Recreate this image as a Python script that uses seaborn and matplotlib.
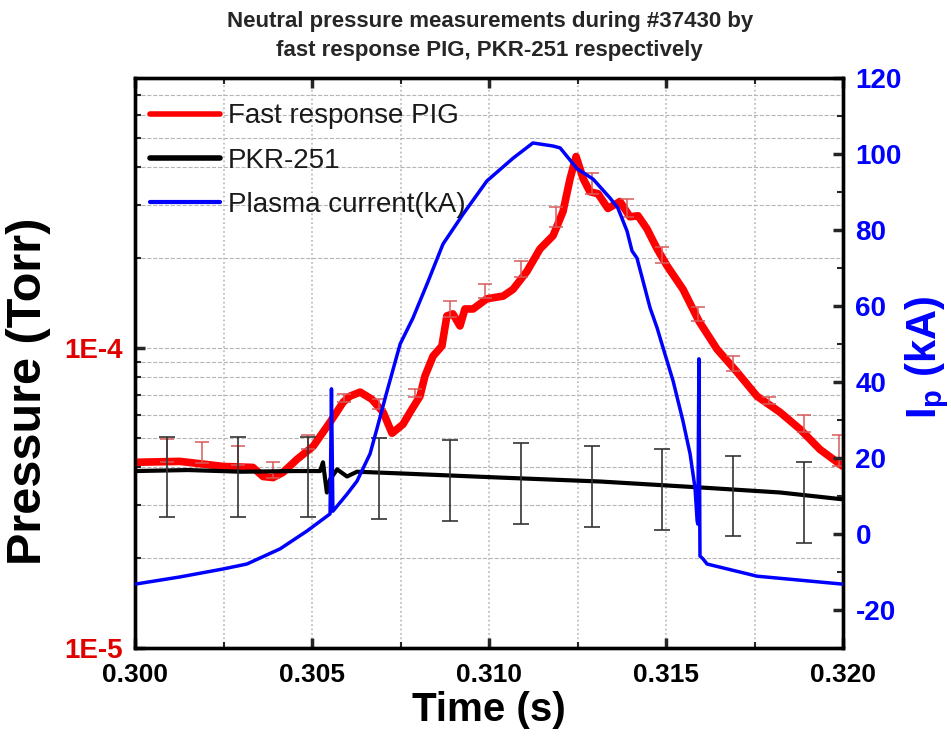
import numpy as np
import pandas as pd
import matplotlib
matplotlib.use("Agg")
import matplotlib.pyplot as plt
import matplotlib.ticker as mticker
import seaborn as sns

# ---------------- data ----------------
pig_t = [0.30000, 0.30127, 0.30249, 0.30333, 0.30362, 0.30390, 0.30418, 0.30458, 0.30503, 0.30551,
         0.30588, 0.30607, 0.30636, 0.30669, 0.30701, 0.30726, 0.30757, 0.30777, 0.30805, 0.30819,
         0.30842, 0.30867, 0.30881, 0.30898, 0.30918, 0.30932, 0.30955, 0.30994, 0.31040, 0.31068,
         0.31107, 0.31144, 0.31181, 0.31209, 0.31229, 0.31246, 0.31266, 0.31285, 0.31308, 0.31336,
         0.31370, 0.31398, 0.31421, 0.31446, 0.31475, 0.31503, 0.31548, 0.31593, 0.31644, 0.31701,
         0.31757, 0.31822, 0.31879, 0.31935, 0.32000]
pig_p = [4.16e-5, 4.19e-5, 4.03e-5, 4.00e-5, 3.73e-5, 3.70e-5, 3.85e-5, 4.26e-5, 4.70e-5, 5.66e-5,
         6.60e-5, 6.91e-5, 7.13e-5, 6.75e-5, 6.11e-5, 5.20e-5, 5.57e-5, 6.11e-5, 6.91e-5, 8.06e-5,
         9.40e-5, 1.016e-4, 1.28e-4, 1.30e-4, 1.185e-4, 1.35e-4, 1.35e-4, 1.46e-4, 1.49e-4, 1.57e-4,
         1.80e-4, 2.14e-4, 2.37e-4, 2.85e-4, 3.67e-4, 4.35e-4, 3.67e-4, 3.32e-4, 3.27e-4, 2.92e-4,
         3.08e-4, 2.74e-4, 2.76e-4, 2.50e-4, 2.14e-4, 1.88e-4, 1.57e-4, 1.23e-4, 9.92e-5, 8.31e-5,
         6.91e-5, 6.11e-5, 5.36e-5, 4.59e-5, 4.03e-5]

pig_err_t = [0.3009, 0.3019, 0.3029, 0.3039, 0.3049, 0.3059, 0.3069, 0.3079, 0.3089, 0.3099,
             0.3109, 0.3119, 0.3129, 0.3139, 0.3149, 0.3159, 0.3169, 0.3179, 0.3189, 0.3199]
pig_err_p = [4.16e-5, 4.13e-5, 4.06e-5, 3.70e-5, 4.59e-5, 6.60e-5, 6.25e-5, 6.86e-5, 1.27e-4, 1.47e-4,
             1.73e-4, 2.54e-4, 3.27e-4, 2.74e-4, 1.92e-4, 1.23e-4, 8.38e-5, 6.49e-5, 5.24e-5, 4.03e-5]
pig_err_up = [0.80e-5, 0.72e-5, 0.64e-5, 0.46e-5, 0.53e-5, 0.42e-5, 0.50e-5, 0.45e-5, 1.6e-5, 1.7e-5,
              2.2e-5, 4.2e-5, 5.5e-5, 4.1e-5, 2.6e-5, 1.4e-5, 1.0e-5, 0.4e-5, 0.73e-5, 1.1e-5]

pkr_t = [0.30000, 0.30150, 0.30300, 0.30450, 0.30523, 0.30531, 0.30542, 0.30551, 0.30571, 0.30599,
         0.30627, 0.30749, 0.31031, 0.31314, 0.31596, 0.31822, 0.32000]
pkr_p = [3.89e-5, 3.92e-5, 3.87e-5, 3.89e-5, 3.89e-5, 4.16e-5, 3.30e-5, 3.65e-5, 3.94e-5, 3.73e-5,
         3.87e-5, 3.82e-5, 3.70e-5, 3.59e-5, 3.43e-5, 3.30e-5, 3.13e-5]

pkr_err_t = [0.3009, 0.3029, 0.3049, 0.3069, 0.3089, 0.3109, 0.3129, 0.3149, 0.3169, 0.3189]
pkr_err_p = [3.89e-5, 3.89e-5, 3.89e-5, 3.85e-5, 3.80e-5, 3.72e-5, 3.62e-5, 3.53e-5, 3.37e-5, 3.21e-5]
pkr_err = [1.16e-5, 1.16e-5, 1.16e-5, 1.15e-5, 1.14e-5, 1.12e-5, 1.09e-5, 1.06e-5, 1.01e-5, 0.97e-5]

ip_t = [0.30000, 0.30127, 0.30249, 0.30316, 0.30410, 0.30486, 0.30551, 0.30555, 0.30559, 0.30599,
        0.30627, 0.30664, 0.30684, 0.30712, 0.30749, 0.30785, 0.30825, 0.30870, 0.30927, 0.30994,
        0.31068, 0.31124, 0.31181, 0.31201, 0.31249, 0.31294, 0.31342, 0.31364, 0.31390, 0.31404,
        0.31418, 0.31435, 0.31455, 0.31475, 0.31492, 0.31520, 0.31548, 0.31568, 0.31582, 0.31588,
        0.31590, 0.31593, 0.31596, 0.31605, 0.31616, 0.31757, 0.32000]
ip_ka = [-13.2, -11.3, -9.2, -7.9, -3.9, 0.8, 5.3, 38.2, 6.0, 10.5,
         13.9, 21.1, 27.9, 37.6, 50.0, 56.8, 65.8, 76.3, 84.2, 92.9,
         98.9, 102.9, 102.1, 101.6, 96.1, 93.4, 88.4, 85.8, 79.7, 74.5,
         72.6, 66.6, 59.5, 54.2, 48.9, 40.3, 29.7, 21.1, 12.1, 3.4,
         2.6, 46.1, -5.8, -6.6, -7.9, -11.1, -13.2]

labels = ["Fast response PIG", "PKR-251", "Plasma current(kA)"]
x_ticks = [0.300, 0.305, 0.310, 0.315, 0.320]
ip_ticks = [-20, 0, 20, 40, 60, 80, 100, 120]

# ---------------- style ----------------
sns.set_theme(style="ticks")
plt.rcParams["font.family"] = ["Liberation Sans", "DejaVu Sans"]
plt.rcParams["mathtext.fontset"] = "custom"
plt.rcParams["mathtext.rm"] = "Liberation Sans"
plt.rcParams["mathtext.bf"] = "Liberation Sans:bold"
plt.rcParams["axes.unicode_minus"] = False

RED = "#ff0000"
BLUE = "#0000ff"

fig = plt.figure(figsize=(9.51, 7.46), dpi=100)
ax = fig.add_axes([135/951, 1-648/746, (843-135)/951, (648-78)/746])
ax.set_yscale("log")

df_pig = pd.DataFrame({"t": pig_t, "p": pig_p})
df_pkr = pd.DataFrame({"t": pkr_t, "p": pkr_p})
df_ip = pd.DataFrame({"t": ip_t, "i": ip_ka})

sns.lineplot(data=df_pig, x="t", y="p", ax=ax, color=RED, lw=5.5, estimator=None,
             sort=False, label=labels[0], legend=False, zorder=3)
ax.errorbar(pig_err_t, pig_err_p, yerr=[np.zeros(len(pig_err_up)), pig_err_up], fmt="none",
            ecolor="#d85a5a", elinewidth=1.1, capsize=5, capthick=1.1, zorder=3.5)
sns.lineplot(data=df_pkr, x="t", y="p", ax=ax, color="black", lw=3.0, estimator=None,
             sort=False, label=labels[1], legend=False, zorder=4)
ax.errorbar(pkr_err_t, pkr_err_p, yerr=pkr_err, fmt="none", ecolor="#333333",
            elinewidth=1.2, capsize=6, capthick=1.2, zorder=4.5)

ax.set_xlim(0.300, 0.320)
ax.set_ylim(1e-5, 7.95e-4)
ax.set_xticks(x_ticks)
ax.xaxis.set_minor_locator(mticker.MultipleLocator(0.0025))
ax.xaxis.set_major_formatter(mticker.FormatStrFormatter("%.3f"))
ax.yaxis.set_major_locator(mticker.LogLocator(base=10, numticks=10))
ax.yaxis.set_minor_locator(mticker.LogLocator(base=10, subs=np.arange(2, 10), numticks=10))
ax.yaxis.set_major_formatter(mticker.FuncFormatter(lambda v, p: f"1E{int(round(np.log10(v)))}"))
ax.yaxis.set_minor_formatter(mticker.NullFormatter())

ax.grid(which="both", axis="y", color="#b5b5b5", ls="--", lw=0.8)
ax.grid(which="both", axis="x", color="#b5b5b5", ls=":", lw=1.2)

ax.tick_params(axis="x", which="major", direction="in", length=7, width=2.5, top=True,
               labelsize=19, pad=11, labelcolor="black")
ax.tick_params(axis="x", which="minor", direction="in", length=4, width=1.5, top=True)
ax.tick_params(axis="y", which="major", direction="in", length=7, width=2.5, right=False,
               labelsize=20, pad=9, labelcolor="#e00000")
ax.tick_params(axis="y", which="minor", direction="in", length=4, width=1.5, right=False)
for lab in ax.get_xticklabels() + ax.get_yticklabels():
    lab.set_fontweight("bold")
for s in ax.spines.values():
    s.set_linewidth(2.4)
    s.set_color("black")

ax.set_xlabel("Time (s)", fontsize=29, fontweight="bold", color="black")
ax.xaxis.set_label_coords(0.5, -0.075)
ax.set_ylabel("Pressure (Torr)", fontsize=35, fontweight="bold", color="black")
ax.yaxis.set_label_coords(-0.118, 0.45)

# ---------- right axis ----------
ax2 = ax.twinx()
sns.lineplot(data=df_ip, x="t", y="i", ax=ax2, color=BLUE, lw=2.5, estimator=None,
             sort=False, label=labels[2], legend=False, zorder=5)
ax2.set_ylim(-30, 120)
ax2.set_yticks(ip_ticks)
ax2.yaxis.set_minor_locator(mticker.MultipleLocator(10))
ax2.tick_params(axis="y", which="major", direction="in", length=7, width=2.5,
                labelsize=20, pad=9, labelcolor=BLUE)
ax2.tick_params(axis="y", which="minor", direction="in", length=4, width=1.5)
for lab in ax2.get_yticklabels():
    lab.set_fontweight("bold")
for s in ax2.spines.values():
    s.set_linewidth(2.4)
    s.set_color("black")
ax2.set_xlim(0.300, 0.320)
ax2.set_ylabel(r"I$_\mathbf{p}$ (kA)", fontsize=30, fontweight="bold", color=BLUE)
ax2.yaxis.set_label_coords(1.085, 0.51)

h1, l1 = ax.get_legend_handles_labels()
h2, l2 = ax2.get_legend_handles_labels()
leg = ax2.legend(h1 + h2, l1 + l2, loc="upper left", bbox_to_anchor=(0.006, 0.975),
                 frameon=False, fontsize=20, handlelength=2.5, handletextpad=0.3,
                 labelspacing=0.66, borderaxespad=0.0)
for hl, w in zip(leg.legend_handles, [4.0, 4.0, 3.0]):
    hl.set_linewidth(w)
for tx in leg.get_texts():
    tx.set_color("#1a1a1a")

fig.text(0.515, 1 - 36/746, "Neutral pressure measurements during #37430 by\n"
         "fast response PIG, PKR-251 respectively", ha="center", va="center",
         fontsize=16, fontweight="bold", linespacing=1.45)

fig.savefig("out.png", dpi=100)
